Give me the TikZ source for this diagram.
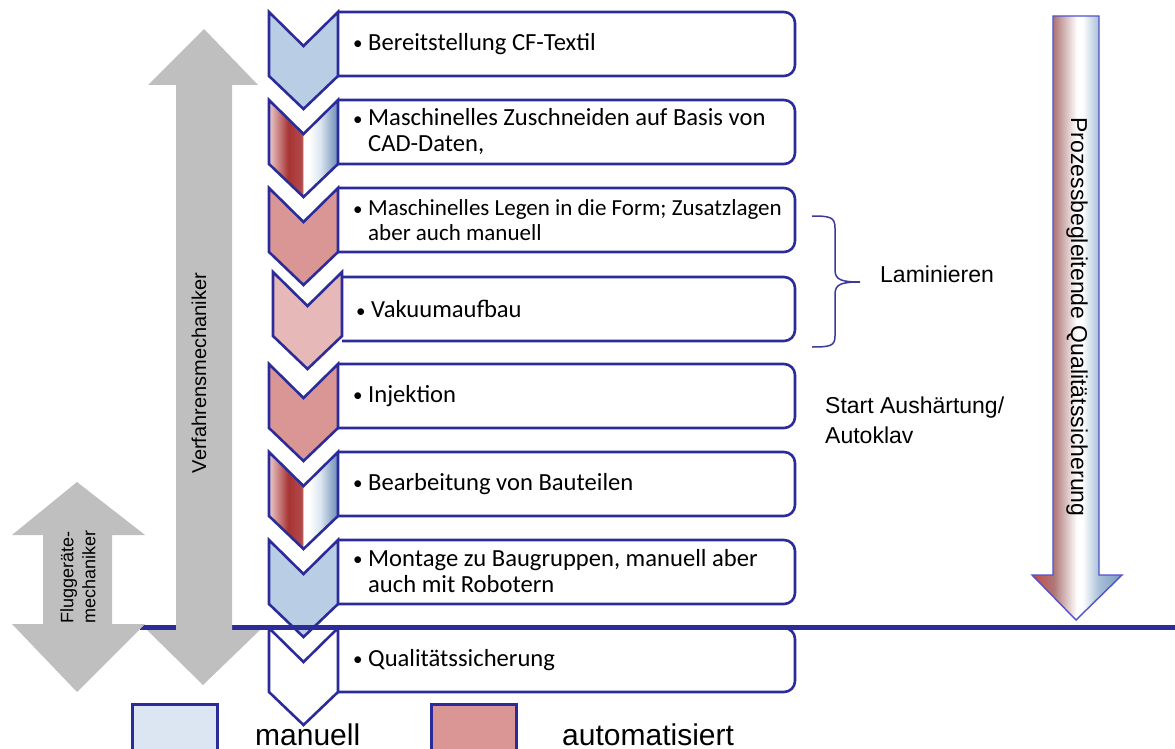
\documentclass[tikz,border=0pt]{standalone}
\usepackage{fontspec}
\setmainfont{Liberation Sans}
\newfontfamily\boxfont{Carlito}

\definecolor{edgeblue}{HTML}{2B2B9A}
\definecolor{manblue}{HTML}{B9CDE5}
\definecolor{autored}{HTML}{D99694}
\definecolor{lightred}{HTML}{E6B9B8}
\definecolor{legblue}{HTML}{DCE6F2}
\definecolor{arrowgray}{HTML}{BFBFBF}
\definecolor{thinblue}{HTML}{5252D0}
\definecolor{bracecol}{HTML}{3A3A9A}
% mixed chevron: red half on the left, blue half on the right
\definecolor{cgA}{HTML}{EACBCB}
\definecolor{cgB}{HTML}{A83434}
\definecolor{cgC}{HTML}{B24A4A}
\definecolor{cgD}{HTML}{DDE7F1}
\definecolor{cgE}{HTML}{6A8BB6}
\pgfdeclarehorizontalshading{chevgrad}{100bp}{color(0bp)=(cgA); color(25bp)=(cgA); color(39bp)=(cgB); color(49bp)=(cgC); color(50bp)=(white); color(54bp)=(white); color(62bp)=(cgD); color(75bp)=(cgE); color(100bp)=(cgE)}
% quality arrow: red on the left, white, blue on the right
\definecolor{qA}{HTML}{C44848}
\definecolor{qB}{HTML}{AE7676}
\definecolor{qC}{HTML}{A9C1D9}
\definecolor{qD}{HTML}{7898BE}
\pgfdeclarehorizontalshading{qsgrad}{100bp}{color(0bp)=(qA); color(25bp)=(qA); color(37bp)=(qB); color(50bp)=(white); color(53bp)=(white); color(62bp)=(qC); color(75bp)=(qD); color(100bp)=(qD)}

% #1 x offset, #2 top y, #3 fill options
\newcommand\procbox[2]{%
  \filldraw[outline, fill=white, rounded corners=11pt]
    (338+#1,#2) -- (795,#2) -- (795,#2+64) -- (338+#1,#2+64);}
\newcommand\procchevron[3]{%
  \path[outline, #3]
    (269+#1,#2) -- (303.5+#1,#2+34) -- (338+#1,#2) -- (338+#1,#2+64)
    -- (303.5+#1,#2+97) -- (269+#1,#2+64) -- cycle;}

\begin{document}
\begin{tikzpicture}[x=1pt, y=-1pt,
  outline/.style={draw=edgeblue, line width=2.6pt, line join=miter},
  steptext/.style={font=\boxfont\fontsize{24.6}{26}\selectfont, inner sep=0pt, anchor=west, align=left},
  smallsteptext/.style={steptext, font=\boxfont\fontsize{23}{25}\selectfont},
  grayarrow/.style={fill=arrowgray, draw=none},
  sidelabel/.style={font=\fontsize{23}{30}\selectfont, inner sep=0pt, align=left},
  legendbox/.style={draw=edgeblue, line width=2.6pt, minimum width=85pt, minimum height=60pt, anchor=north west, inner sep=0pt},
  legendtext/.style={font=\fontsize{30}{30}\selectfont, inner sep=0pt, anchor=base west}]
\useasboundingbox (0,0) rectangle (1175,749);

% process boxes
\procbox{0}{12}
\procbox{0}{100}
\procbox{0}{188}
\procbox{4}{277}
\procbox{0}{364}
\procbox{0}{452}
\procbox{0}{540}
\procbox{0}{628}

% chevrons
\procchevron{0}{12}{fill=manblue}
\procchevron{0}{100}{shading=chevgrad}
\procchevron{0}{188}{fill=autored}
\procchevron{4}{272}{fill=lightred}
\procchevron{0}{364}{fill=autored}
\procchevron{0}{452}{shading=chevgrad}
\procchevron{0}{540}{fill=manblue}
\procchevron{0}{628}{fill=white}

% step texts
\newcommand\bul{\makebox[15pt][l]{\raisebox{0.5pt}{\fontsize{19}{19}\selectfont\textbullet}}}
\newcommand\hang{\hspace*{15pt}}
\node[steptext] (t1) at (353,44) {\bul Bereitstellung CF-Textil};
\node[steptext] (t2) at (353,132) {\bul Maschinelles Zuschneiden auf Basis von\\\hang CAD-Daten,};
\node[smallsteptext] (t3) at (353,220.5) {\bul Maschinelles Legen in die Form; Zusatzlagen\\\hang aber auch manuell};
\node[steptext] (t4) at (356,309) {\bul Vakuumaufbau};
\node[steptext] (t5) at (353,396) {\bul Injektion};
\node[steptext] (t6) at (353,484) {\bul Bearbeitung von Bauteilen};
\node[steptext] (t7) at (353,571) {\bul Montage zu Baugruppen, manuell aber\\\hang auch mit Robotern};
\node[steptext] (t8) at (353,660) {\bul Qualitätssicherung};

% separating line
\draw[edgeblue, line width=5pt] (140,627) -- (1175,627);

% qualification arrows
\path[grayarrow] (204,29) -- (258,85) -- (232,85) -- (232,630) -- (260,630)
  -- (203,685) -- (147,630) -- (176,630) -- (176,85) -- (148,85) -- cycle;
\path[grayarrow] (77,482) -- (145,535) -- (112,535) -- (112,624) -- (145,624)
  -- (77,692) -- (12,624) -- (43,624) -- (43,535) -- (12,535) -- cycle;
\node[rotate=90, font=\fontsize{20}{24}\selectfont, inner sep=0pt] (vm) at (199,373) {Verfahrensmechaniker};
\node[rotate=90, font=\fontsize{18}{22}\selectfont, inner sep=0pt, align=left] (fm) at (78,577) {Fluggeräte-\\mechaniker};

% accompanying quality assurance
\path[draw=thinblue, line width=1.4pt, shading=qsgrad] (1053,16) -- (1099,16) -- (1099,575)
  -- (1122,575) -- (1076,620) -- (1032,575) -- (1053,575) -- cycle;
\node[rotate=-90, font=\fontsize{23}{28}\selectfont, inner sep=0pt] (qs) at (1077,317) {Prozessbegleitende Qualitätssicherung};

% brace over lamination steps
\draw[bracecol, line width=1.5pt] (812,216) .. controls (830,216) and (835,217) .. (835,228)
  -- (835,270) .. controls (835,280) and (842,282) .. (860,282)
  .. controls (842,282) and (835,284) .. (835,294)
  -- (835,336) .. controls (835,346) and (830,347) .. (812,347);
\node[sidelabel, anchor=west] (lam) at (880,274) {Laminieren};
\node[sidelabel, anchor=west] (cure) at (825,420) {Start Aushärtung/\\Autoklav};

% legend
\node[legendbox, fill=legblue] (lgm) at (131,703) {};
\node[legendbox, fill=autored] (lga) at (430,703) {};
\node[legendtext] (lgmt) at (255,745) {manuell};
\node[legendtext] (lgat) at (562,745) {automatisiert};
\end{tikzpicture}
\end{document}
